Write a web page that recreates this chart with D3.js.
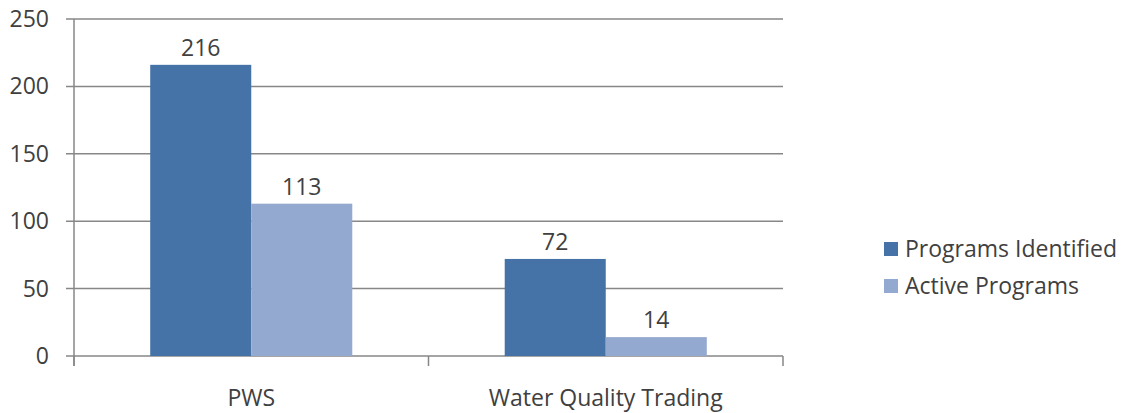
<!DOCTYPE html>
<html>
<head>
<meta charset="utf-8">
<script src="https://cdn.jsdelivr.net/npm/d3@7"></script>
<style>
  body { margin: 0; background: #fff; }
  text { font-family: "Open Sans", "Noto Sans", sans-serif; fill: #404040; }
</style>
</head>
<body>
<div id="chart"></div>
<script>
// data
const categories = ["PWS", "Water Quality Trading"];
const seriesNames = ["Programs Identified", "Active Programs"];
const programsIdentified = [216, 72];
const activePrograms = [113, 14];
const yTicks = [0, 50, 100, 150, 200, 250];
const colors = ["#4572A7", "#93A9CF"];

const width = 1124, height = 413;
const margin = { top: 19, right: 341, bottom: 57, left: 74 };
const innerW = width - margin.left - margin.right;
const innerH = height - margin.top - margin.bottom;

const svg = d3.select("#chart").append("svg")
    .attr("width", width)
    .attr("height", height);

const g = svg.append("g")
    .attr("transform", `translate(${margin.left},${margin.top})`);

const x0 = d3.scaleBand().domain(categories).range([0, innerW]).paddingInner(0).paddingOuter(0);
const x1 = d3.scaleBand().domain(seriesNames).range([x0.bandwidth() * 0.215, x0.bandwidth() * 0.785]);
const y = d3.scaleLinear().domain([0, 250]).range([innerH, 0]);

const rows = categories.map((c, i) => ({
    cat: c,
    vals: [
        { name: seriesNames[0], value: programsIdentified[i], color: colors[0] },
        { name: seriesNames[1], value: activePrograms[i], color: colors[1] }
    ]
}));

// gridlines
g.selectAll(".grid")
    .data(yTicks)
    .enter()
    .append("line")
    .attr("x1", -8)
    .attr("x2", innerW)
    .attr("y1", d => y(d))
    .attr("y2", d => y(d))
    .attr("stroke", "#878787")
    .attr("stroke-width", 1.5);

// y labels
g.selectAll(".ylab")
    .data(yTicks)
    .enter()
    .append("text")
    .attr("x", -25)
    .attr("y", d => y(d))
    .attr("dy", "0.35em")
    .attr("text-anchor", "end")
    .attr("font-size", "23px")
    .text(d => d);

// bars
const groups = g.selectAll(".grp")
    .data(rows)
    .enter()
    .append("g")
    .attr("transform", d => `translate(${x0(d.cat)},0)`);

groups.selectAll("rect")
    .data(d => d.vals)
    .enter()
    .append("rect")
    .attr("x", d => x1(d.name))
    .attr("y", d => y(d.value))
    .attr("width", x1.bandwidth())
    .attr("height", d => innerH - y(d.value))
    .attr("fill", d => d.color);

groups.selectAll(".val")
    .data(d => d.vals)
    .enter()
    .append("text")
    .attr("x", d => x1(d.name) + x1.bandwidth() / 2)
    .attr("y", d => y(d.value) - 9)
    .attr("text-anchor", "middle")
    .attr("font-size", "23px")
    .text(d => d.value);

// axes lines
g.append("line")
    .attr("x1", 0).attr("x2", 0)
    .attr("y1", 0).attr("y2", innerH + 10)
    .attr("stroke", "#878787").attr("stroke-width", 1.5);

g.selectAll(".xtick")
    .data([0, innerW / 2, innerW])
    .enter()
    .append("line")
    .attr("x1", d => d).attr("x2", d => d)
    .attr("y1", innerH).attr("y2", innerH + 10)
    .attr("stroke", "#878787").attr("stroke-width", 1.5);

g.selectAll(".xlab")
    .data(categories)
    .enter()
    .append("text")
    .attr("x", d => x0(d) + x0.bandwidth() / 2)
    .attr("y", innerH + 50)
    .attr("text-anchor", "middle")
    .attr("font-size", "23px")
    .text(d => d);

// legend
const legend = svg.append("g").attr("transform", "translate(884,242)");
legend.selectAll("rect")
    .data(seriesNames)
    .enter()
    .append("rect")
    .attr("x", 0)
    .attr("y", (d, i) => i * 37)
    .attr("width", 14)
    .attr("height", 14)
    .attr("fill", (d, i) => colors[i]);

legend.selectAll("text")
    .data(seriesNames)
    .enter()
    .append("text")
    .attr("x", 21)
    .attr("y", (d, i) => i * 37 + 7)
    .attr("dy", "0.35em")
    .attr("font-size", "23px")
    .text(d => d);
</script>
</body>
</html>
